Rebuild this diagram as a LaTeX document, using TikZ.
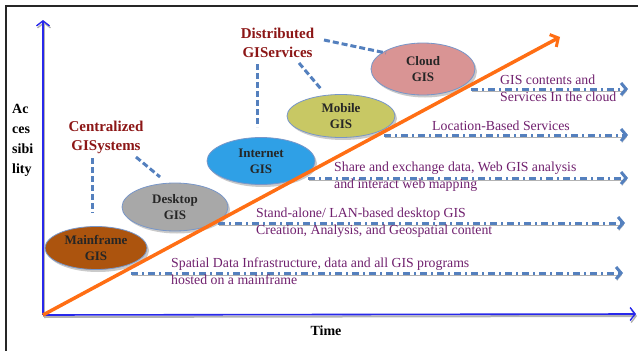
\documentclass[tikz,border=0pt]{standalone}
\usepackage{fontspec}
\setmainfont{Liberation Serif}
\usetikzlibrary{arrows.meta,shapes.geometric,shadows}
\definecolor{axisblue}{RGB}{40,40,235}
\definecolor{dashblue}{RGB}{84,128,190}
\definecolor{orangeln}{RGB}{255,110,20}
\definecolor{titlered}{RGB}{140,22,22}
\definecolor{descpurple}{RGB}{112,32,110}
\definecolor{brownfill}{RGB}{172,84,14}
\definecolor{grayfill}{RGB}{168,168,168}
\definecolor{bluefill}{RGB}{47,160,230}
\definecolor{olivefill}{RGB}{200,200,100}
\definecolor{pinkfill}{RGB}{217,148,148}
\definecolor{ellborder}{RGB}{120,150,200}
\begin{document}
\begin{tikzpicture}[x=1pt,y=-1pt,
  gisell/.style={ellipse, draw=ellborder, line width=0.8pt, inner sep=0pt, align=center,
    text=black!85, font=\bfseries\fontsize{13}{16}\selectfont,
    drop shadow={shadow xshift=2pt, shadow yshift=-2.5pt, opacity=0.35, fill=black!60}},
  titletext/.style={align=center, text=titlered, font=\bfseries\fontsize{15}{19}\selectfont, inner sep=0pt},
  desctext/.style={anchor=west, align=left, text=descpurple, font=\fontsize{13.8}{17}\selectfont, inner sep=0pt},
  axislbl/.style={align=left, text=black, font=\bfseries\fontsize{14}{20}\selectfont, inner sep=0pt},
  linkdash/.style={draw=dashblue, line width=3pt, dash pattern=on 6pt off 3pt},
  dotarrow/.style={draw=dashblue, line width=3pt, dash pattern=on 7pt off 4pt on 2pt off 4pt,
    -{Straight Barb[length=5pt,width=12pt,line width=3pt]},
    preaction={draw=black!30, transform canvas={shift={(0.8pt,-1.8pt)}}}},
  axisarrow/.style={draw=axisblue, line width=1.6pt, -{Straight Barb[length=5pt,width=13pt,line width=1.4pt]},
    preaction={draw=black!30, line width=2pt, transform canvas={shift={(1pt,-2pt)}}}}
]
\useasboundingbox (0,0) rectangle (638,351);
% frame
\draw[line width=2.2pt, black!85] (6,351) -- (6,6) -- (638,6);

% axes
\coordinate (origin) at (43,315);
\coordinate (ytip) at (43,20);
\coordinate (xtip) at (636,314);
\draw[axisarrow] (origin) -- (ytip);
\draw[axisarrow] (origin) -- (xtip);

% axis labels
\node[axislbl, anchor=west] (acc) at (12,140) {Ac\\ces\\sibi\\lity};
\node[axislbl] (time) at (326,331) {Time};

% ellipses
\node[gisell, fill=brownfill, minimum width=102pt, minimum height=43pt] (main) at (96,248) {Mainframe\\GIS};
\node[gisell, fill=grayfill, minimum width=106pt, minimum height=48pt] (desk) at (175,207) {Desktop\\GIS};
\node[gisell, fill=bluefill, minimum width=108pt, minimum height=47pt] (inet) at (261,161) {Internet\\GIS};
\node[gisell, fill=olivefill, minimum width=108pt, minimum height=43pt] (mob) at (341,116) {Mobile\\GIS};
\node[gisell, fill=pinkfill, minimum width=104pt, minimum height=52pt] (cloud) at (423,69) {Cloud\\GIS};

% titles
\node[titletext] (dist) at (277.5,42.5) {Distributed\\GIServices};
\node[titletext] (cent) at (106,137) {Centralized\\GISystems};

% dashed links
\coordinate (d1a) at (257,64);  \coordinate (d1b) at (257,127);
\coordinate (d2a) at (299,63);  \coordinate (d2b) at (321,89);
\coordinate (d3a) at (324,40);  \coordinate (d3b) at (386,53);
\coordinate (c1a) at (92,158);  \coordinate (c1b) at (92,213);
\coordinate (c2a) at (136,157); \coordinate (c2b) at (160,177);
\draw[linkdash] (d1a) -- (d1b);
\draw[linkdash] (d2a) -- (d2b);
\draw[linkdash] (d3a) -- (d3b);
\draw[linkdash] (c1a) -- (c1b);
\draw[linkdash] (c2a) -- (c2b);

% dash-dot arrows
\coordinate (a1s) at (471,89);  \coordinate (a1e) at (628,89);
\coordinate (a2s) at (384,135); \coordinate (a2e) at (628,135);
\coordinate (a3s) at (308,178); \coordinate (a3e) at (628,178);
\coordinate (a4s) at (218,223); \coordinate (a4e) at (625,223);
\coordinate (a5s) at (131,273); \coordinate (a5e) at (623,273);
\draw[dotarrow] (a1s) -- (a1e);
\draw[dotarrow] (a2s) -- (a2e);
\draw[dotarrow] (a3s) -- (a3e);
\draw[dotarrow] (a4s) -- (a4e);
\draw[dotarrow] (a5s) -- (a5e);

% orange trend arrow
\coordinate (otip) at (560,37);
\draw[draw=orangeln, line width=3.5pt, -{Straight Barb[length=6pt,width=14pt,line width=3pt]}] (origin) -- (otip);

% descriptions
\node[desctext] (t1) at (500,88.5) {GIS contents and\\Services In the cloud};
\node[desctext] (t2) at (432,126) {Location-Based Services};
\node[desctext] (t3) at (334,176.5) {Share and exchange data, Web GIS analysis\\and interact web mapping};
\node[desctext] (t4) at (256,223) {Stand-alone/ LAN-based desktop GIS\\Creation, Analysis, and Geospatial content};
\node[desctext] (t5) at (171,271.5) {Spatial Data Infrastructure, data and all GIS programs\\hosted on a mainframe};
\end{tikzpicture}
\end{document}
